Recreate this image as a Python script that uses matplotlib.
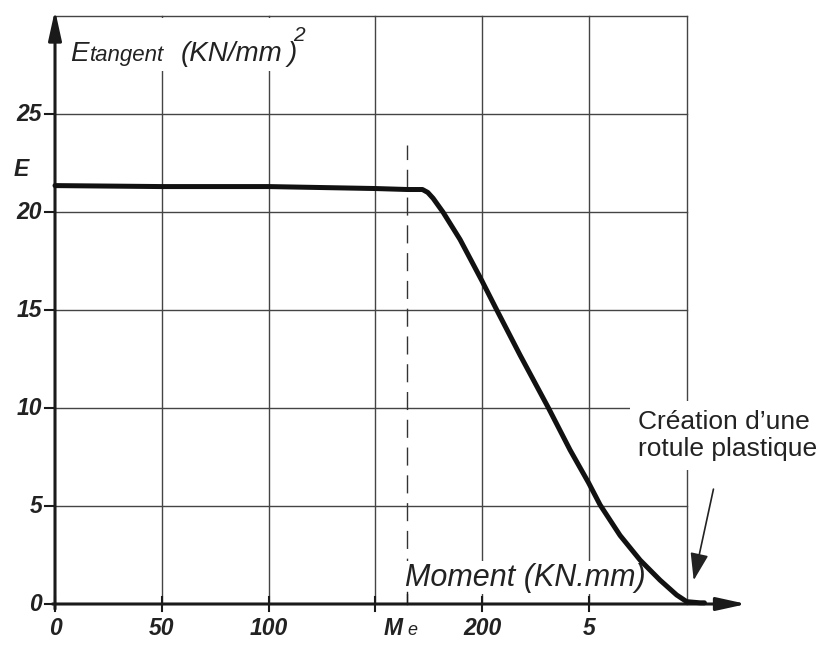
import numpy as np
import matplotlib.pyplot as plt
from matplotlib.patches import Rectangle

# Données (Moment en KN.mm, E tangent en KN/mm2)
moment = [0, 50, 100, 150, 165, 172, 174.5, 177, 181.6, 189.6, 199.8, 206.8, 217.7,
          231, 241.1, 249.7, 255.2, 264.5, 273.9, 283.2, 291, 295.7, 302, 304]
e_tangent = [21.35, 21.3, 21.3, 21.2, 21.15, 21.15, 21.0, 20.7, 20.0, 18.6, 16.5, 15.0, 12.7,
             10.0, 7.86, 6.2, 5.05, 3.5, 2.24, 1.22, 0.46, 0.12, 0.06, 0.06]

# Grille et graduations
x_grid = [50, 100, 150, 200, 250]
x_border = 296
y_grid = [5, 10, 15, 20, 25, 30]
y_ticks = [0, 5, 10, 15, 20, 25]
x_ticks = [0, 50, 100, 150, 200, 250]
x_tick_labels = ['0', '50', '100', '', '200', '5']
m_e = 165
m_e_top = 23.4

font = 'Liberation Sans'
ink = '#1a1a1a'
txt = '#222222'

fig = plt.figure(figsize=(8.2, 6.48), dpi=100)
ax = fig.add_axes([0, 0, 1, 1])
ax.set_xlim(-25.75, 358.1)
ax.set_ylim(-2.245, 30.82)
ax.axis('off')

# grille
for xv in x_grid + [x_border]:
    ax.plot([xv, xv], [0, y_grid[-1]], color='#444444', lw=1.0, zorder=1)
for yv in y_grid:
    ax.plot([0, x_border], [yv, yv], color='#444444', lw=1.0, zorder=1)

# masque blanc sous le titre
ax.add_patch(Rectangle((1, 27.2), 124, 2.7, facecolor='white', edgecolor='none', zorder=2))

# ligne M e
ax.plot([m_e, m_e], [0, m_e_top], color='#333333', lw=1.0, dashes=(13, 7), zorder=2)

# axes avec flèches
ax.annotate('', xy=(0, 30.45), xytext=(0, -0.4),
            arrowprops=dict(arrowstyle='-|>,head_length=1.0,head_width=0.22',
                            lw=2.2, color=ink, mutation_scale=18), zorder=4)
ax.annotate('', xy=(325, 0), xytext=(-2.5, 0),
            arrowprops=dict(arrowstyle='-|>,head_length=1.0,head_width=0.22',
                            lw=2.2, color=ink, mutation_scale=18), zorder=4)

# graduations
for yv in y_ticks:
    ax.plot([-4.7, 0], [yv, yv], color=ink, lw=1.5, zorder=4)
    ax.text(-6.0, yv, str(yv), ha='right', va='center', fontsize=16.5, fontstyle='italic',
            fontweight='bold', family=font, color=txt)
for xv, lab in zip(x_ticks, x_tick_labels):
    ax.plot([xv, xv], [-0.35, 0.35], color=ink, lw=1.5, zorder=4)
    ax.text(xv, -1.25, lab, ha='center', va='center', fontsize=16.5, fontstyle='italic',
            fontweight='bold', family=font, color=txt)
ax.plot([m_e, m_e], [0, 0.6], color=ink, lw=1.0, zorder=4)

# étiquette M e
t_m = ax.text(154.0, -1.25, 'M', ha='left', va='center', fontsize=16.5, fontstyle='italic',
              fontweight='bold', family=font, color=txt)
ax.annotate('e', xy=(1, 0), xycoords=t_m, xytext=(3, 1), textcoords='offset points',
            ha='left', va='bottom', fontsize=13, fontstyle='italic', family=font, color=txt)

# E à gauche de l'axe
ax.text(-19.5, 22.15, 'E', ha='left', va='center', fontsize=16.5, fontstyle='italic',
        fontweight='bold', family=font, color=txt)

# courbe
ax.plot(moment, e_tangent, color='#111111', lw=3.6, solid_capstyle='round',
        solid_joinstyle='round', zorder=5)

# titre de l'axe vertical
t1 = ax.text(7.0, 27.7, 'E', ha='left', va='baseline', fontsize=20, fontstyle='italic',
             family=font, color=txt, zorder=6)
t2 = ax.annotate('tangent', xy=(1, 0), xycoords=t1, xytext=(1, 0.5), textcoords='offset points',
                 ha='left', va='bottom', fontsize=16, fontstyle='italic', family=font,
                 color=txt, zorder=6)
t3 = ax.annotate('(KN/mm', xy=(1, 0), xycoords=t2, xytext=(12, -0.5), textcoords='offset points',
                 ha='left', va='bottom', fontsize=20, fontstyle='italic', family=font,
                 color=txt, zorder=6)
t4 = ax.annotate(')', xy=(1, 0), xycoords=t3, xytext=(4, 0), textcoords='offset points',
                 ha='left', va='bottom', fontsize=20, fontstyle='italic', family=font,
                 color=txt, zorder=6)
ax.annotate('2', xy=(0, 1), xycoords=t4, xytext=(4, -3), textcoords='offset points',
            ha='left', va='bottom', fontsize=15, fontstyle='italic', family=font,
            color=txt, zorder=6)

# titre de l'axe horizontal
ax.text(163.9, 1.33, 'Moment (KN.mm)', ha='left', va='center', fontsize=22, fontstyle='italic',
        family=font, color=txt, zorder=3,
        bbox=dict(facecolor='white', edgecolor='none', pad=1))

# annotation rotule plastique
ax.text(272.9, 8.6, 'Création d’une\nrotule plastique', ha='left', va='center', fontsize=19,
        family=font, color=txt, zorder=3,
        bbox=dict(facecolor='white', edgecolor='none', pad=6))
ax.annotate('', xy=(298.7, 1.07), xytext=(308.5, 6.0),
            arrowprops=dict(arrowstyle='-|>,head_length=1.2,head_width=0.4',
                            lw=1.2, color=txt, mutation_scale=14), zorder=6)

fig.savefig('out.png', dpi=100)
